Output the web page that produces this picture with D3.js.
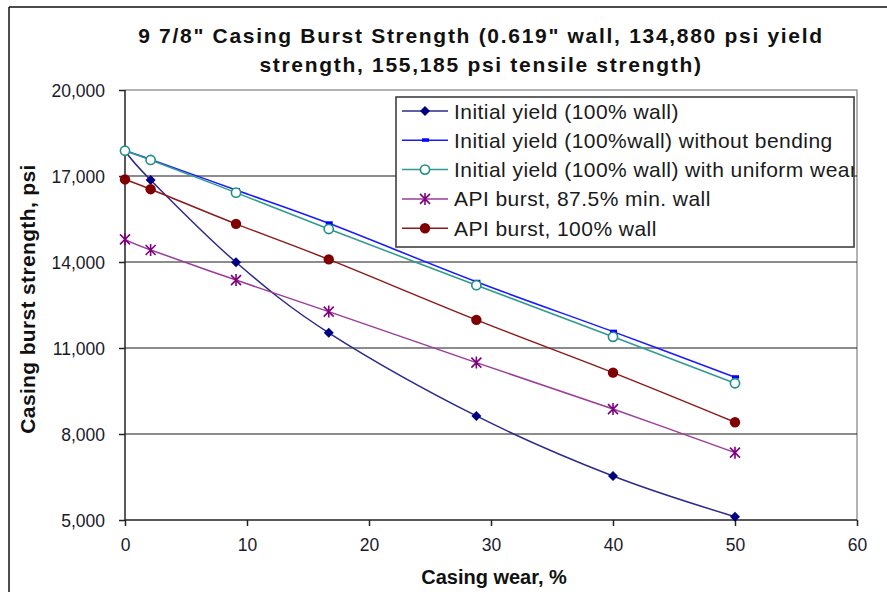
<!DOCTYPE html>
<html>
<head>
<meta charset="utf-8">
<script src="https://cdn.jsdelivr.net/npm/d3@7"></script>
<style>
  html, body { margin: 0; padding: 0; background: #fff; }
  svg { display: block; font-family: "Liberation Sans", Arial, sans-serif; }
</style>
</head>
<body>
<svg id="chart" width="887" height="592"></svg>
<script>
// Casing wear (% of wall) and burst strength (psi) for each method
const wear = [0, 2.1, 9.1, 16.7, 28.8, 40, 50];
const yieldFull = [17880, 16860, 13990, 11530, 8630, 6535, 5115];
const yieldNoBend = [17880, 17580, 16510, 15350, 13310, 11570, 9980];
const yieldUniform = [17880, 17560, 16420, 15150, 13190, 11390, 9770];
const apiMinWall = [14790, 14420, 13370, 12270, 10490, 8870, 7350];
const apiFullWall = [16880, 16540, 15330, 14090, 11980, 10140, 8410];

const seriesNames = [
  "Initial yield (100% wall)",
  "Initial yield (100%wall) without bending",
  "Initial yield (100% wall) with uniform wear",
  "API burst, 87.5% min. wall",
  "API burst, 100% wall"
];
const xTicks = [0, 10, 20, 30, 40, 50, 60];
const yTicks = [5000, 8000, 11000, 14000, 17000, 20000];
const titleLines = [
  "9 7/8\" Casing Burst Strength (0.619\" wall, 134,880 psi yield",
  "strength, 155,185 psi tensile strength)"
];

const series = [
  { name: seriesNames[0], values: yieldFull,    line: "#2b2b8c", marker: "diamond", color: "#000080" },
  { name: seriesNames[1], values: yieldNoBend,  line: "#1a1aff", marker: "dash",    color: "#0000ff" },
  { name: seriesNames[2], values: yieldUniform, line: "#2e9a92", marker: "ring",    color: "#1f8f87" },
  { name: seriesNames[3], values: apiMinWall,   line: "#9a3d9a", marker: "star",    color: "#800080" },
  { name: seriesNames[4], values: apiFullWall,  line: "#8c1a1a", marker: "dot",     color: "#800000" }
];

const svg = d3.select("#chart");
const plotLeft = 125, plotRight = 857, plotTop = 90, plotBottom = 520;

const x = d3.scaleLinear().domain([0, 60]).range([plotLeft, plotRight]);
const y = d3.scaleLinear().domain([5000, 20000]).range([plotBottom, plotTop]);

// Outer chart frame (left and top edges)
svg.append("line").attr("x1", 9).attr("x2", 9).attr("y1", 7).attr("y2", 592)
  .attr("stroke", "#111").attr("stroke-width", 1.5);
svg.append("line").attr("x1", 9).attr("x2", 887).attr("y1", 7).attr("y2", 7)
  .attr("stroke", "#111").attr("stroke-width", 1.5);

// Title
svg.append("g").selectAll("text").data(titleLines).join("text")
  .attr("x", 481).attr("y", (d, i) => 42.5 + i * 29.5)
  .attr("text-anchor", "middle")
  .attr("font-weight", "bold").attr("font-size", 21).attr("letter-spacing", 1.7)
  .attr("fill", "#111")
  .text(d => d);

// Plot frame: grey top and right edges
svg.append("path")
  .attr("d", `M${plotLeft},${plotTop}H${plotRight}V${plotBottom}`)
  .attr("fill", "none").attr("stroke", "#9a9a9a").attr("stroke-width", 1.5);

// Horizontal gridlines
svg.append("g").selectAll("line").data(yTicks.filter(t => t > 5000 && t < 20000)).join("line")
  .attr("x1", plotLeft).attr("x2", plotRight)
  .attr("y1", d => y(d)).attr("y2", d => y(d))
  .attr("stroke", "#1a1a1a").attr("stroke-width", 1.2);

// Axes
const yAxis = svg.append("g").attr("transform", `translate(${plotLeft},0)`)
  .call(d3.axisLeft(y).tickValues(yTicks).tickFormat(d3.format(",")).tickSize(6).tickPadding(14));
const xAxis = svg.append("g").attr("transform", `translate(0,${plotBottom})`)
  .call(d3.axisBottom(x).tickValues(xTicks).tickFormat(d3.format("d")).tickSize(6).tickPadding(12));
[yAxis, xAxis].forEach(g => {
  g.select(".domain").attr("stroke", "#222").attr("stroke-width", 1.5);
  g.selectAll(".tick line").attr("stroke", "#222").attr("stroke-width", 1.5);
  g.selectAll(".tick text").attr("font-size", 17.5).attr("fill", "#1a1a2a")
    .attr("font-family", "Liberation Sans, Arial, sans-serif");
});
xAxis.select(".domain").attr("d", `M${plotLeft},0H${plotRight}`);
yAxis.select(".domain").attr("d", `M0,${plotBottom}V${plotTop}`);
yAxis.selectAll(".tick text").attr("dy", "0.36em");
xAxis.selectAll(".tick text").attr("dy", "0.75em");

// Axis titles
svg.append("text")
  .attr("transform", "translate(34.5,299) rotate(-90)")
  .attr("text-anchor", "middle").attr("font-weight", "bold").attr("font-size", 21)
  .attr("letter-spacing", 0.35)
  .attr("fill", "#111").text("Casing burst strength, psi");
svg.append("text")
  .attr("x", 494).attr("y", 584)
  .attr("text-anchor", "middle").attr("font-weight", "bold").attr("font-size", 20)
  .attr("fill", "#111").text("Casing wear, %");

// Marker drawing
function drawMarker(g, type, color) {
  if (type === "diamond") {
    g.append("path").attr("d", "M0,-5L5,0L0,5L-5,0Z").attr("fill", color);
  } else if (type === "dash") {
    g.append("rect").attr("x", -3).attr("y", -2).attr("width", 7).attr("height", 3.5).attr("fill", color);
  } else if (type === "ring") {
    g.append("circle").attr("r", 4.6).attr("fill", "#fff").attr("stroke", color).attr("stroke-width", 1.6);
  } else if (type === "star") {
    g.append("path").attr("d", "M-5,-5L5,5M-5,5L5,-5M0,-6V6")
      .attr("stroke", color).attr("stroke-width", 1.6).attr("fill", "none");
  } else if (type === "dot") {
    g.append("circle").attr("r", 5.2).attr("fill", color);
  }
}

// Series lines (smoothed) and markers
const line = d3.line().x(d => x(d[0])).y(d => y(d[1])).curve(d3.curveCatmullRom.alpha(0));
series.forEach(s => {
  const pts = wear.map((w, i) => [w, s.values[i]]);
  svg.append("path").datum(pts).attr("d", line)
    .attr("fill", "none").attr("stroke", s.line).attr("stroke-width", 1.5);
});
series.forEach(s => {
  const pts = wear.map((w, i) => [w, s.values[i]]);
  svg.append("g").selectAll("g").data(pts).join("g")
    .attr("transform", d => `translate(${x(d[0])},${y(d[1])})`)
    .each(function () { drawMarker(d3.select(this), s.marker, s.color); });
});

// Legend
const lx = 396, ly = 97, lw = 458, lh = 150;
svg.append("clipPath").attr("id", "legend-clip")
  .append("rect").attr("x", lx).attr("y", ly).attr("width", lw).attr("height", lh);
const legend = svg.append("g");
legend.append("rect").attr("x", lx).attr("y", ly).attr("width", lw).attr("height", lh)
  .attr("fill", "#fff");
const rows = legend.append("g").attr("clip-path", "url(#legend-clip)")
  .selectAll("g").data(series).join("g")
  .attr("transform", (d, i) => `translate(0,${111 + i * 29.3})`);
rows.append("line").attr("x1", 402).attr("x2", 448).attr("y1", 0).attr("y2", 0)
  .attr("stroke", d => d.line).attr("stroke-width", 1.5);
rows.append("g").attr("transform", "translate(425,0)")
  .each(function (d) { drawMarker(d3.select(this), d.marker, d.color); });
rows.append("text").attr("x", 454).attr("y", 0).attr("dy", "0.36em")
  .attr("font-size", 21).attr("letter-spacing", 0.45).attr("fill", "#1a1a1a").text(d => d.name);
legend.append("rect").attr("x", lx).attr("y", ly).attr("width", lw).attr("height", lh)
  .attr("fill", "none").attr("stroke", "#333").attr("stroke-width", 1.5);
</script>
</body>
</html>
